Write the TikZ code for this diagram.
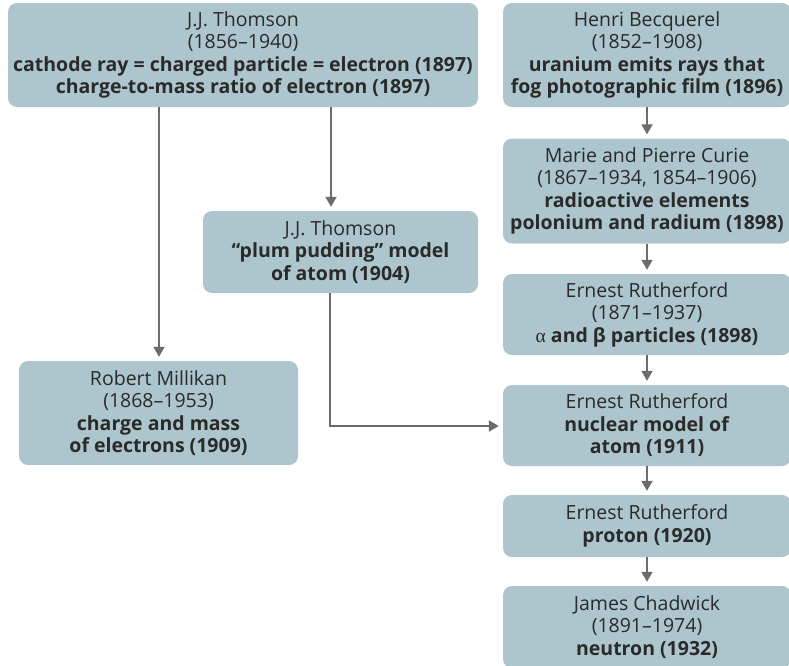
\documentclass[tikz,border=0pt]{standalone}
\usepackage{fontspec}
\setmainfont{Open Sans}
\newfontfamily\greekserif{Liberation Serif}
\newfontfamily\greeksans{Open Sans}
\usetikzlibrary{arrows.meta}
\definecolor{boxfill}{HTML}{ADC6CD}
\definecolor{arrowgray}{HTML}{6B6B6B}
\definecolor{txt}{HTML}{2A2A2A}
\begin{document}
\begin{tikzpicture}[x=1pt,y=-1pt,
  card/.style={rectangle, rounded corners=9pt, fill=boxfill, inner sep=0pt,
    align=center, text=txt, font=\fontsize{19.5}{22.5}\selectfont},
  link/.style={draw=arrowgray, line width=1.8pt,
    -{Triangle[width=11pt,length=10pt]}, shorten >=4pt}]
\useasboundingbox (0,0) rectangle (789,665);
% left / middle
\node[card, minimum width=470pt, minimum height=104pt] (thomson) at (243,55)
  {J.J. Thomson\\(1856–1940)\\\textbf{cathode ray = charged particle = electron (1897)}\\\textbf{charge-to-mass ratio of electron (1897)}};
\node[card, minimum width=275pt, minimum height=82pt] (plum) at (340.5,252)
  {J.J. Thomson\\\textbf{“plum pudding” model}\\\textbf{of atom (1904)}};
\node[card, minimum width=279pt, minimum height=104pt] (millikan) at (158.5,413)
  {Robert Millikan\\(1868–1953)\\\textbf{charge and mass}\\\textbf{of electrons (1909)}};
% right column
\node[card, minimum width=288pt, minimum height=104pt] (becq) at (647,55)
  {Henri Becquerel\\(1852–1908)\\\textbf{uranium emits rays that}\\\textbf{fog photographic film (1896)}};
\node[card, minimum width=288pt, minimum height=105pt] (curie) at (647,191)
  {Marie and Pierre Curie\\(1867–1934, 1854–1906)\\\textbf{radioactive elements}\\\textbf{polonium and radium (1898)}};
\node[card, minimum width=288pt, minimum height=81pt] (ruth1) at (647,314.5)
  {Ernest Rutherford\\(1871–1937)\\{\greekserif α} \textbf{and {\greeksans β} particles (1898)}};
\node[card, minimum width=288pt, minimum height=81pt] (ruth2) at (647,425.5)
  {Ernest Rutherford\\\textbf{nuclear model of}\\\textbf{atom (1911)}};
\node[card, minimum width=288pt, minimum height=62pt] (ruth3) at (647,526)
  {Ernest Rutherford\\\textbf{proton (1920)}};
\node[card, minimum width=288pt, minimum height=82pt] (chad) at (647,627)
  {James Chadwick\\(1891–1974)\\\textbf{neutron (1932)}};
% connectors
\coordinate (tL) at (159,107);
\coordinate (tM) at (331,107);
\coordinate (pB) at (330,293);
\coordinate (bend) at (330,426);
\draw[link] (tL) -- (tL |- millikan.north);
\draw[link] (tM) -- (tM |- plum.north);
\draw[link] (pB) -- (bend) -- (bend -| ruth2.west);
\draw[link] (becq.south) -- (curie.north);
\draw[link] (curie.south) -- (ruth1.north);
\draw[link] (ruth1.south) -- (ruth2.north);
\draw[link] (ruth2.south) -- (ruth3.north);
\draw[link] (ruth3.south) -- (chad.north);
\end{tikzpicture}
\end{document}
